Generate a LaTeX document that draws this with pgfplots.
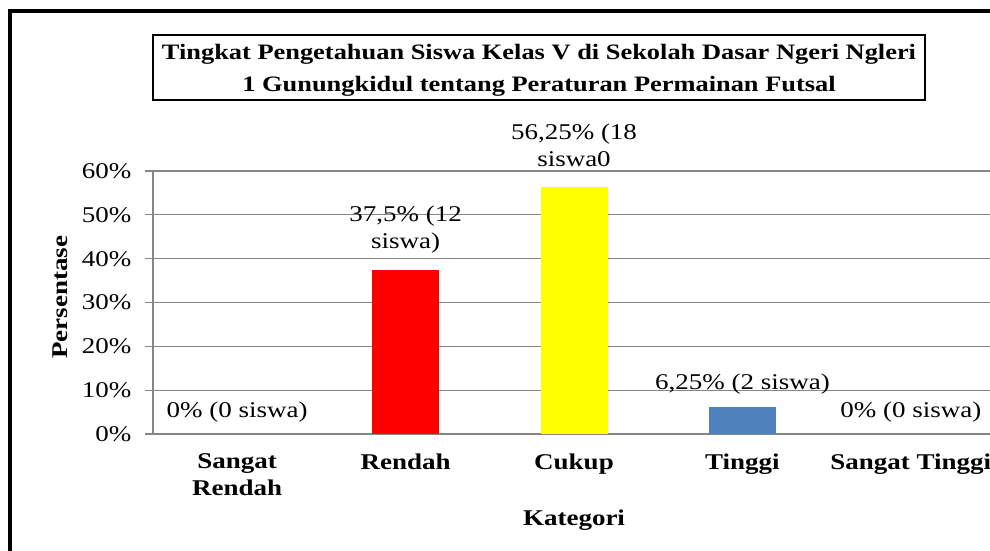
\documentclass[border=0pt]{standalone}
\usepackage{fontspec}
\setmainfont{Liberation Serif}[FakeStretch=1.2]
\usepackage{pgfplots}
\pgfplotsset{compat=1.18}
\definecolor{gridgray}{RGB}{134,134,134}
\definecolor{barblue}{RGB}{79,129,189}
\definecolor{baryellow}{RGB}{255,255,0}
\definecolor{barred}{RGB}{255,0,0}
\newcommand{\lbl}{\fontsize{22.5}{27}\selectfont}
\newcommand{\blbl}{\fontsize{22.5}{27}\selectfont\bfseries}
\begin{document}
\begin{tikzpicture}[x=1pt,y=1pt]
\clip (0,0) rectangle (990,551);
\fill[white] (0,0) rectangle (990,551);
\draw[line width=4pt] (9.5,-20) -- (9.5,539.5) -- (1010,539.5);
\draw[line width=2.5pt, fill=white] (153,451) rectangle (925,516);
\node[align=center, font={\fontsize{22}{32}\selectfont\bfseries}] at (539,481)
  {Tingkat Pengetahuan Siswa Kelas V di Sekolah Dasar Ngeri Ngleri\\1 Gunungkidul tentang Peraturan Permainan Futsal};
\begin{axis}[
  at={(153pt,117pt)}, anchor=south west, scale only axis,
  width=842pt, height=263pt,
  xmin=-0.5, xmax=4.5, ymin=0, ymax=60,
  ytick={0,10,20,30,40,50,60},
  yticklabels={0\%,10\%,20\%,30\%,40\%,50\%,60\%},
  yticklabel style={font=\lbl, xshift=-10pt},
  xtick={0,1,2,3,4},
  xticklabels={Sangat\\Rendah,Rendah,Cukup,Tinggi,Sangat Tinggi},
  xticklabel style={font=\blbl, align=center, anchor=north, yshift=-8pt},
  axis lines*=left,
  axis line style={gridgray, line width=1.8pt},
  ymajorgrids,
  major grid style={gridgray, line width=1.3pt},
  ytick style={gridgray, line width=1.3pt},
  tick align=outside, major tick length=8pt,
  xtick style={draw=none},
  xlabel={Kategori},
  xlabel style={font=\blbl, at={(axis description cs:0.5,0)}, anchor=center, yshift=-86pt},
  ylabel={Persentase},
  ylabel style={font=\blbl, at={(axis description cs:-0.1105,0.52)}, anchor=center},
  clip=false,
]
\addplot[ybar, bar shift=0pt, bar width=67pt, draw=none, fill=none] coordinates {(0,0)};
\addplot[ybar, bar shift=0pt, bar width=67pt, draw=none, fill=barred] coordinates {(1,37.5)};
\addplot[ybar, bar shift=0pt, bar width=67pt, draw=none, fill=baryellow] coordinates {(2,56.25)};
\addplot[ybar, bar shift=0pt, bar width=67pt, draw=none, fill=barblue] coordinates {(3,6.25)};
\addplot[ybar, bar shift=0pt, bar width=67pt, draw=none, fill=none] coordinates {(4,0)};
\node[font=\lbl] at (axis cs:0,5) {0\% (0 siswa)};
\node[font=\lbl, align=center] at (axis cs:1,46.7) {37,5\% (12\\siswa)};
\node[font=\lbl, align=center] at (axis cs:2,65.8) {56,25\% (18\\siswa0};
\node[font=\lbl] at (axis cs:3,11.4) {6,25\% (2 siswa)};
\node[font=\lbl] at (axis cs:4,5) {0\% (0 siswa)};
\end{axis}
\end{tikzpicture}
\end{document}
